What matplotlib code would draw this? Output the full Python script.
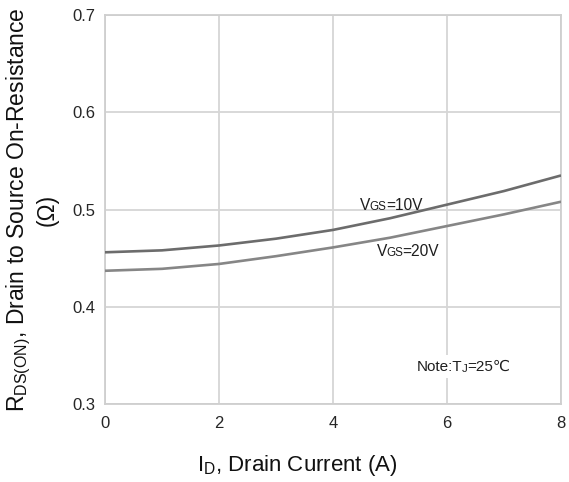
import matplotlib
matplotlib.use("Agg")
import matplotlib.pyplot as plt

plt.rcParams['font.family'] = ['Liberation Sans', 'DejaVu Sans']
plt.rcParams['mathtext.fontset'] = 'custom'
plt.rcParams['mathtext.rm'] = 'Liberation Sans'
plt.rcParams['mathtext.it'] = 'Liberation Sans:italic'

# Data
drain_current = [0, 1, 2, 3, 4, 5, 6, 7, 8]
rds_vgs10 = [0.456, 0.458, 0.463, 0.470, 0.479, 0.491, 0.505, 0.519, 0.535]
rds_vgs20 = [0.437, 0.439, 0.444, 0.452, 0.461, 0.471, 0.483, 0.495, 0.508]
x_ticks = [0, 2, 4, 6, 8]
y_ticks = [0.3, 0.4, 0.5, 0.6, 0.7]
y_tick_labels = ['0.3', '0.4', '0.5', '0.6', '0.7']

fig = plt.figure(figsize=(5.69, 4.82), dpi=100)
ax = fig.add_axes([0.1845, 0.1618, 0.8015, 0.8071])

ax.plot(drain_current, rds_vgs10, color='#6c6c6c', lw=1.9, solid_capstyle='butt', zorder=3)
ax.plot(drain_current, rds_vgs20, color='#868686', lw=1.9, solid_capstyle='butt', zorder=3)

ax.set_xlim(0, 8)
ax.set_ylim(0.3, 0.7)
ax.set_xticks(x_ticks)
ax.set_yticks(y_ticks)
ax.set_yticklabels(y_tick_labels)
ax.grid(True, color='#d6d6d6', lw=1.3)
ax.set_axisbelow(True)
for s in ax.spines.values():
    s.set_color('#cfcfcf')
    s.set_linewidth(1.3)
ax.tick_params(axis='both', length=0, labelsize=12, labelcolor='#262626')
ax.tick_params(axis='x', pad=8.5)
ax.tick_params(axis='y', pad=7)

ax.set_xlabel(r'I$_{\mathregular{D}}$, Drain Current (A)', fontsize=16, color='#111111', va='center')
ax.xaxis.set_label_coords(0.421, -0.159)
ax.set_ylabel('R$_{\\mathregular{DS(ON)}}$, Drain to Source On-Resistance\n(\u03a9)',
              fontsize=16.5, color='#111111', va='center', linespacing=1.15)
ax.yaxis.set_label_coords(-0.161, 0.5)


def small_caps_label(x, y, big, small, rest, size, boxed=False):
    kw = dict(color='#1e1e1e')
    bb = dict(boxstyle='square,pad=0.3', fc='white', ec='none') if boxed else None
    t1 = ax.text(x, y, big, fontsize=size, va='baseline', ha='left', bbox=bb,
                 zorder=4, **kw)
    t2 = ax.annotate(small, xy=(1, 0), xycoords=t1, xytext=(-0.6, 0),
                     textcoords='offset points', fontsize=size * 0.75,
                     va='bottom', ha='left', zorder=6, **kw)
    ax.annotate(rest, xy=(1, 0), xycoords=t2, xytext=(-0.5, 0),
                textcoords='offset points', fontsize=size,
                va='bottom', ha='left', bbox=bb, zorder=5, **kw)


small_caps_label(4.474, 0.4995, 'V', 'GS', '=10V', 11.2)
small_caps_label(4.77, 0.4522, 'V', 'GS', '=20V', 11.2)
small_caps_label(5.474, 0.3342, 'Note:T', 'J', '=25\u2103', 11, boxed=True)

fig.savefig('out.png', dpi=100)
